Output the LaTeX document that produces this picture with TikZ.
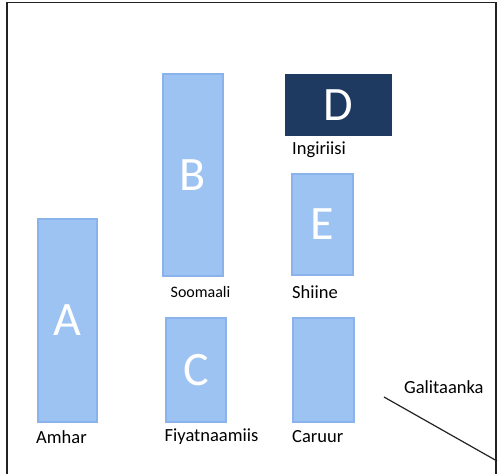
\documentclass[tikz,border=0pt]{standalone}
\usepackage{fontspec}
\setmainfont{Carlito}
\definecolor{boxfill}{HTML}{9DC3F2}
\definecolor{boxline}{HTML}{8AB3EB}
\definecolor{navy}{HTML}{1F3A60}
\definecolor{frameline}{HTML}{222222}
\begin{document}
\begin{tikzpicture}[x=1pt,y=-1pt,
  bar/.style={draw=boxline, fill=boxfill, line width=1.2pt, inner sep=0pt, text=white,
    font=\fontsize{48}{48}\selectfont},
  lbl/.style={inner sep=0pt, anchor=west, font=\fontsize{18.5}{19}\selectfont},
]
\useasboundingbox (0,0) rectangle (499,474);
\draw[frameline, line width=1.2pt] (7,476) -- (7,2.5) -- (496,2.5) -- (496,476);
\node[bar, minimum width=59pt, minimum height=203pt] (A) at (67.5,320.5) {A};
\node[bar, minimum width=60pt, minimum height=202pt] (B) at (193,175) {B};
\node[bar, minimum width=60pt, minimum height=104pt] (C) at (196,370) {C};
\node[bar, draw=navy, fill=navy, minimum width=105pt, minimum height=60pt] (D) at (338.5,105) {D};
\node[bar, minimum width=61pt, minimum height=101pt] (E) at (322.5,224.5) {E};
\node[bar, minimum width=61pt, minimum height=104pt] (F) at (323.5,370) {};
\node[lbl] (la) at (36,437) {Amhar};
\node[lbl] (lc) at (164.5,437) {Fiyatnaamiis};
\node[lbl] (lf) at (292,437) {Caruur};
\node[lbl] (le) at (292,292) {Shiine};
\node[lbl] (ld) at (292,150) {Ingiriisi};
\node[inner sep=0pt, font=\fontsize{16}{16}\selectfont] (lb) at (200.5,292) {Soomaali};
\node[lbl] (lg) at (404,387) {Galitaanka};
\coordinate (g1) at (384,397);
\coordinate (g2) at (497,461);
\draw[frameline, line width=1.2pt] (g1) -- (g2);
\end{tikzpicture}
\end{document}
